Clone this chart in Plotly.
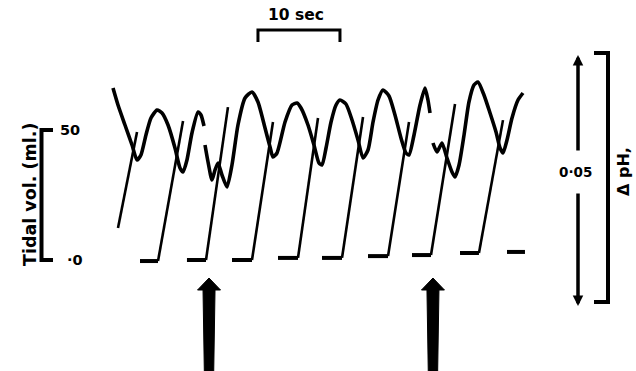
import plotly.graph_objects as go

# ---------------- data (read from the recording) ----------------
# Tidal volume (spirometer sawtooth): time in s, volume in ml
first_rise_time = [0.0, 2.32]
first_rise_vol = [12.3, 49.2]
flat_start = [2.68, 8.41, 13.90, 19.51, 24.88, 30.49, 35.85, 41.71, 47.44]
flat_end = [4.88, 10.73, 16.34, 21.95, 27.32, 32.93, 38.17, 44.02, 49.63]
peak_time = [7.93, 13.41, 18.90, 24.39, 29.88, 35.49, 41.10, 46.95, None]
baseline_vol = [-0.4, 0.0, 0.0, 0.8, 0.8, 1.5, 1.9, 2.7, 3.1]
peak_vol = [53.5, 58.8, 53.1, 54.6, 55.0, 53.1, 60.0, 53.8, None]

# pH oscillation: time in s, delta pH in milli-pH units (None = gap in trace)
ph_time = [-0.61, 0.0, 0.85, 1.71, 2.32, 2.80, 3.41, 4.02, 4.76, 5.37, 6.10, 6.95,
           7.56, 7.93, 8.41, 9.02, 9.76, 10.12, 10.49, None,
           10.61, 10.98, 11.46, 11.83, 12.20, 12.68, 13.29, 13.90, 14.63, 15.49,
           16.34, 17.07, 17.93, 18.54, 18.90, 19.39, 20.37, 21.22, 21.83, 22.32,
           23.17, 23.90, 24.51, 24.88, 25.37, 25.98, 26.59, 27.07, 27.80, 28.54,
           29.27, 29.88, 30.49, 31.10, 31.71, 32.32, 33.05, 33.78, 34.51, 35.12,
           35.49, 36.10, 36.83, 37.44, 37.80, 38.05, None,
           38.41, 38.90, 39.51, 40.12, 40.73, 41.10, 41.59, 42.20, 42.80, 43.41,
           43.90, 44.63, 45.37, 46.10, 46.59, 46.95, 47.44, 48.05, 48.78, 49.39]
ph_delta = [43.4, 40.0, 36.0, 32.0, 29.0, 30.0, 34.0, 37.4, 39.0, 38.4, 36.0, 31.4,
            27.4, 26.6, 29.0, 34.4, 38.6, 38.0, 35.8, None,
            32.0, 28.6, 25.0, 27.0, 28.4, 26.0, 23.6, 28.0, 36.0, 41.4,
            42.6, 40.6, 35.4, 31.6, 29.6, 30.4, 36.6, 40.0, 40.4, 39.4,
            36.0, 32.0, 28.4, 28.0, 31.4, 36.6, 40.0, 41.0, 40.2, 37.0,
            33.0, 29.4, 31.0, 36.6, 41.0, 43.0, 41.8, 38.0, 33.4, 30.4,
            30.0, 34.0, 40.0, 43.4, 41.0, 38.4, None,
            32.4, 30.6, 32.4, 29.4, 26.6, 25.6, 28.0, 34.0, 40.6, 44.0,
            44.6, 42.0, 38.4, 34.6, 31.4, 30.4, 33.0, 37.4, 41.0, 42.4]

# scale bars / markers
tidal_scale = [0, 50]          # ml
tidal_labels = ["50", "·0"]
time_scale_start = 17.07       # s
time_scale_len = 10            # s
time_label = "10 sec"
ph_scale = 50                  # milli-pH (0.05 pH)
ph_label = "0·05"
ph_axis_label = "Δ pH,"
tidal_axis_label = "Tidal vol. (ml.)"
stimulus_times = [11.10, 38.41]  # s, big arrows

# ---------------- geometry helpers ----------------
W, H = 636, 371
PX_PER_S = 8.2
PX_PER_ML = 2.6
PX_PER_MPH = 5.0
X0 = -118 / PX_PER_S
x_range = [X0, (W - 118) / PX_PER_S]
y_range = [(260 - H) / PX_PER_ML, 260 / PX_PER_ML]
y2_range = [(305 - H) / PX_PER_MPH, 305 / PX_PER_MPH]

def sx(px):
    return px / PX_PER_S

def sy(px):
    return px / PX_PER_ML

# build tidal trace: flat (baseline) parts and rising strokes
fx, fy = [], []
rx, ry = list(first_rise_time) + [None], list(first_rise_vol) + [None]
for fs, fe, pt, b, pv in zip(flat_start, flat_end, peak_time, baseline_vol, peak_vol):
    fx += [fs, fe, None]
    fy += [b, b, None]
    if pt is not None:
        rx += [fe, pt, None]
        ry += [b, pv, None]

fig = go.Figure()
fig.add_trace(go.Scatter(x=rx, y=ry, mode="lines",
                         line=dict(color="black", width=2.6),
                         connectgaps=False, hoverinfo="skip"))
fig.add_trace(go.Scatter(x=fx, y=fy, mode="lines",
                         line=dict(color="black", width=4),
                         connectgaps=False, hoverinfo="skip"))
fig.add_trace(go.Scatter(x=ph_time, y=ph_delta, mode="lines", yaxis="y2",
                         line=dict(color="black", width=3.6, shape="spline", smoothing=0.6),
                         connectgaps=False, hoverinfo="skip"))

shapes = []
# tidal bracket
bx0 = X0 + sx(41.5)
bx1 = X0 + sx(53)
shapes.append(dict(type="path", xref="x", yref="y",
                   path=f"M {bx1},{tidal_scale[1]} L {bx0},{tidal_scale[1]} L {bx0},{tidal_scale[0]} L {bx1},{tidal_scale[0]}",
                   line=dict(color="black", width=4)))
# 10 sec bracket
ty_top = 88.5
ty_tick = ty_top - sy(12)
t0, t1 = time_scale_start, time_scale_start + time_scale_len
shapes.append(dict(type="path", xref="x", yref="y",
                   path=f"M {t0},{ty_tick} L {t0},{ty_top} L {t1},{ty_top} L {t1},{ty_tick}",
                   line=dict(color="black", width=3)))
# pH bracket
px_br = X0 + sx(608)
px_br0 = px_br - sx(14)
shapes.append(dict(type="path", xref="x", yref="y2",
                   path=f"M {px_br0},{ph_scale + 0.4} L {px_br},{ph_scale + 0.4} L {px_br},{0.6} L {px_br0},{0.6}",
                   line=dict(color="black", width=4)))
# big stimulus arrows
tip = sy(260 - 278)
head_base = sy(260 - 290)
bottom = y_range[0] - 5
for te in stimulus_times:
    hw, sw_top, sw_bot = sx(11.5), sx(6), sx(4.5)
    path = (f"M {te},{tip} L {te + hw},{head_base} L {te + sw_top},{head_base} "
            f"L {te + sw_bot},{bottom} L {te - sw_bot},{bottom} L {te - sw_top},{head_base} "
            f"L {te - hw},{head_base} Z")
    shapes.append(dict(type="path", xref="x", yref="y", path=path,
                       fillcolor="black", line=dict(color="black", width=1)))

wide = dict(family="'DejaVu Sans', sans-serif", color="black", size=16, weight="bold")
ann = []
# tidal labels
ann.append(dict(x=X0 + sx(70), y=tidal_scale[1], xref="x", yref="y",
                text=tidal_labels[0], showarrow=False, font=dict(wide, size=14.5)))
ann.append(dict(x=X0 + sx(75), y=tidal_scale[0], xref="x", yref="y",
                text=tidal_labels[1], showarrow=False, font=dict(wide, size=14.5)))
ann.append(dict(x=18 / W, y=1 - 195 / H, xref="paper", yref="paper",
                text=tidal_axis_label, textangle=-90, showarrow=False,
                font=dict(wide, size=17.5)))
# time label
ann.append(dict(x=(t0 + t1) / 2 - sx(3), y=sy(260 - 15), xref="x", yref="y",
                text=time_label, showarrow=False, font=dict(wide, size=15.5)))
# pH scale arrow with label
pa_x = X0 + sx(578)
ann.append(dict(x=pa_x, y=ph_scale, ax=pa_x, ay=30.6, xref="x", yref="y2",
                axref="x", ayref="y2", text="", showarrow=True, arrowhead=2,
                arrowwidth=3.5, arrowsize=0.6, arrowcolor="black"))
ann.append(dict(x=pa_x, y=-0.2, ax=pa_x, ay=22.6, xref="x", yref="y2",
                axref="x", ayref="y2", text="", showarrow=True, arrowhead=2,
                arrowwidth=3.5, arrowsize=0.6, arrowcolor="black"))
ann.append(dict(x=X0 + sx(575), y=26.6, xref="x", yref="y2",
                text=ph_label, showarrow=False, font=dict(wide, size=13.5)))
ann.append(dict(x=X0 + sx(623), y=26.6, xref="x", yref="y2",
                text=ph_axis_label, textangle=-90, showarrow=False, font=dict(wide, size=16)))

fig.update_layout(
    width=W, height=H, margin=dict(l=0, r=0, t=0, b=0),
    paper_bgcolor="white", plot_bgcolor="white", showlegend=False,
    xaxis=dict(range=x_range, visible=False, fixedrange=True),
    yaxis=dict(range=y_range, visible=False, fixedrange=True),
    yaxis2=dict(range=y2_range, visible=False, overlaying="y", fixedrange=True),
    shapes=shapes, annotations=ann,
)
fig.write_html("out.html", config={"displayModeBar": False},
               post_script="document.body.style.margin='0px';document.body.style.overflow='hidden';")
